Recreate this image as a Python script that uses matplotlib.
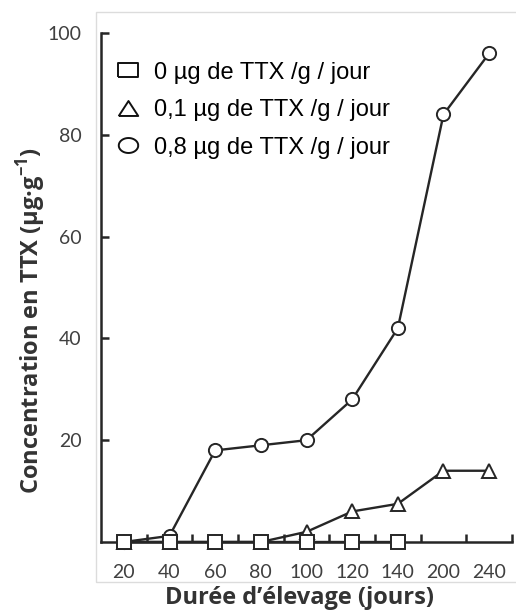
import numpy as np
import matplotlib.pyplot as plt
from matplotlib.lines import Line2D
from matplotlib.patches import Rectangle

plt.rcParams['mathtext.fontset'] = 'custom'
plt.rcParams['mathtext.rm'] = 'Open Sans'
plt.rcParams['mathtext.bf'] = 'Open Sans:bold'

# data
jours = ['20', '40', '60', '80', '100', '120', '140', '200', '240']
ttx_0 = [0, 0, 0, 0, 0, 0, 0]            # measured only up to 140 days
ttx_01 = [0, 0, 0, 0, 2, 6, 7.5, 14, 14]
ttx_08 = [0, 1.2, 18, 19, 20, 28, 42, 84, 96]
y_ticks = [20, 40, 60, 80, 100]
labels = ['0 µg de TTX /g / jour',
          '0,1 µg de TTX /g / jour',
          '0,8 µg de TTX /g / jour']

dark = '#262626'
fig = plt.figure(figsize=(5.16, 6.10), dpi=100)

# light grey frame behind the chart
fig.patches.append(Rectangle((96 / 516, 28 / 610), 1.0, 570 / 610,
                             transform=fig.transFigure, fill=False,
                             edgecolor='#dcdcdc', lw=1.0, zorder=0))

ax = fig.add_axes([101 / 516, 68 / 610, 411 / 516, 509 / 610])
ax.patch.set_alpha(0)

x = np.arange(len(jours))
style = dict(color=dark, lw=1.7, mfc='white', mec=dark, mew=1.4,
             ms=9.5, clip_on=False)
ax.plot(x, ttx_08, marker='o', zorder=3, **style)
ax.plot(x, ttx_01, marker='^', zorder=4, **style)
ax.plot(x[:len(ttx_0)], ttx_0, marker='s', zorder=5, **style)

ax.set_xlim(-0.5, len(jours) - 0.5)
ax.set_ylim(0, 100)
ax.set_xticks(x)
ax.set_xticklabels(jours)
ax.set_xticks(np.arange(0.5, len(jours)), minor=True)
ax.set_yticks(y_ticks)

for s in ['top', 'right']:
    ax.spines[s].set_visible(False)
for s in ['left', 'bottom']:
    ax.spines[s].set_linewidth(1.8)
    ax.spines[s].set_color(dark)

ax.tick_params(axis='x', which='major', length=0, pad=16,
               labelsize=14, labelcolor='#404040')
ax.tick_params(axis='x', which='minor', direction='in', length=6,
               width=1.8, color=dark)
ax.tick_params(axis='y', direction='in', length=6, width=1.8, color=dark,
               pad=14, labelsize=14, labelcolor='#404040')
for t in ax.get_xticklabels() + ax.get_yticklabels():
    t.set_family('Lato')

ax.set_xlabel('Durée d’élevage (jours)', fontsize=17, fontweight='bold',
              family='Open Sans', color='#333333', va='baseline')
ax.xaxis.set_label_coords(0.483, -0.121)
ax.set_ylabel(r'Concentration en TTX (µg·g$^{\mathbf{-1}}$)', fontsize=17,
              fontweight='bold', family='Open Sans', color='#333333',
              va='baseline')
ax.yaxis.set_label_coords(-0.152, 0.434)

# legend markers are slightly stretched horizontally in the original
t = np.linspace(0, 2 * np.pi, 60)
shapes = [[(-1.3, -1), (1.3, -1), (1.3, 1), (-1.3, 1), (-1.3, -1)],
          [(-1.3, -1), (1.3, -1), (0, 1), (-1.3, -1)],
          list(zip(1.3 * np.cos(t), np.sin(t)))]
handles = [Line2D([], [], ls='none', marker=m, ms=14, mfc='white',
                  mec='#111111', mew=1.4) for m in shapes]
ax.legend(handles, labels, loc='upper left', bbox_to_anchor=(0.039, 0.944),
          frameon=False, handlelength=0.95, handletextpad=0.62,
          labelspacing=0.66, borderpad=0, borderaxespad=0,
          prop={'family': 'Liberation Sans', 'size': 17})

fig.savefig('out.png', dpi=100)
